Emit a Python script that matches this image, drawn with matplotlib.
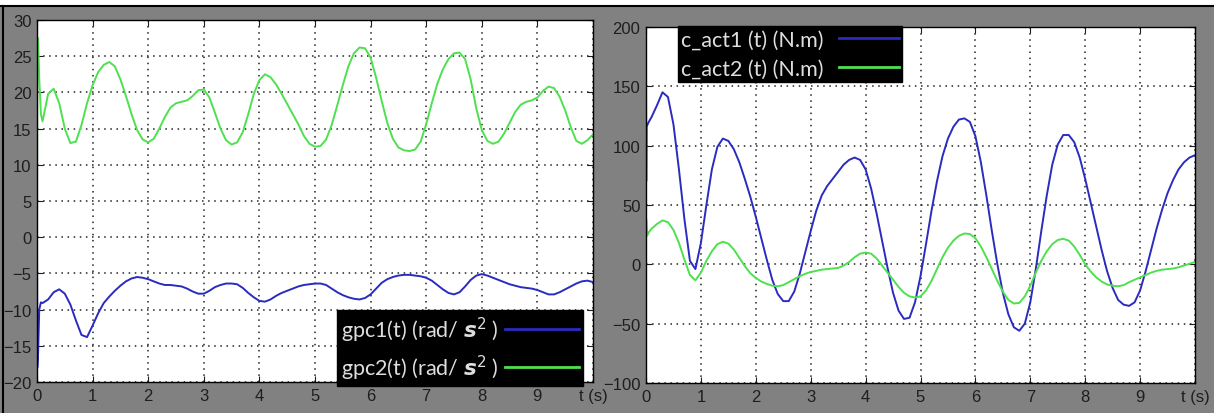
import matplotlib
matplotlib.use("Agg")
import matplotlib.pyplot as plt
from matplotlib.lines import Line2D
from matplotlib.patches import Rectangle
from matplotlib import font_manager

# ---------------- data ----------------
# sample time grid 0.1 .. 10.0 s
T = [round(0.1 * i, 1) for i in range(1, 101)]

# left panel: gpc1 / gpc2 (rad/s^2)
gpc1_head_t = [0.0, 0.005, 0.02, 0.04, 0.07]
gpc1_head_y = [0.0, -18.0, -16.0, -10.0, -9.0]
gpc1 = [-9.1, -8.6, -7.6, -7.2, -7.8, -9.3, -11.5, -13.5, -13.8, -12.2,
        -10.5, -9.1, -8.2, -7.4, -6.7, -6.1, -5.7, -5.5, -5.6, -5.8,
        -6.1, -6.4, -6.6, -6.6, -6.7, -6.8, -7.1, -7.5, -7.8, -7.8,
        -7.4, -6.9, -6.6, -6.4, -6.4, -6.5, -7.0, -7.7, -8.3, -8.8,
        -8.9, -8.6, -8.1, -7.7, -7.4, -7.1, -6.8, -6.6, -6.5, -6.4,
        -6.4, -6.6, -7.1, -7.6, -8.0, -8.3, -8.5, -8.6, -8.4, -7.9,
        -7.1, -6.3, -5.8, -5.5, -5.3, -5.2, -5.2, -5.3, -5.4, -5.6,
        -6.0, -6.6, -7.2, -7.7, -7.9, -7.6, -6.8, -5.9, -5.3, -5.1,
        -5.3, -5.6, -5.9, -6.2, -6.5, -6.7, -6.9, -7.0, -7.1, -7.3,
        -7.6, -7.9, -7.9, -7.6, -7.2, -6.8, -6.4, -6.1, -6.0, -6.2]

gpc2_head_t = [0.0, 0.005, 0.02, 0.04, 0.07]
gpc2_head_y = [0.0, 27.0, 27.5, 22.0, 17.0]
gpc2 = [16.0, 19.8, 20.5, 18.5, 15.0, 13.0, 13.2, 15.5, 18.5, 21.0,
        22.8, 23.8, 24.2, 23.6, 21.8, 19.5, 17.0, 14.8, 13.5, 13.1,
        13.6, 15.0, 16.6, 17.9, 18.5, 18.7, 18.9, 19.5, 20.3, 20.4,
        19.3, 17.2, 15.0, 13.4, 12.8, 13.1, 14.5, 17.0, 19.8, 21.7,
        22.5, 22.1, 21.1, 19.8, 18.4, 17.0, 15.6, 14.0, 12.9, 12.5,
        12.6, 13.5, 15.5, 18.2, 21.0, 23.6, 25.4, 26.2, 26.1, 24.8,
        22.0, 18.8, 15.8, 13.6, 12.4, 12.0, 11.9, 12.1, 13.2, 15.6,
        18.5, 21.2, 23.2, 24.6, 25.4, 25.5, 24.6, 21.8, 17.8, 14.8,
        13.3, 12.9, 13.2, 14.3, 15.8, 17.3, 18.3, 18.7, 18.9, 19.3,
        20.2, 20.8, 20.6, 19.4, 17.5, 15.2, 13.3, 12.9, 13.4, 14.2]

# right panel: c_act1 / c_act2 (N.m)
cact1_head_t = [0.0, 0.004, 0.01, 0.05]
cact1_head_y = [166.0, 70.0, 116.0, 120.0]
cact1 = [124, 134, 145, 141, 118, 80, 38, 3, -4, 18,
         50, 80, 99, 106, 104, 97, 86, 72, 57, 40,
         22, 4, -13, -25, -31, -31, -23, -8, 10, 28,
         45, 58, 66, 72, 78, 84, 88, 90, 88, 80,
         64, 43, 20, -3, -24, -39, -46, -45, -32, -10,
         17, 45, 70, 91, 106, 116, 122, 123, 120, 108,
         86, 58, 28, 0, -24, -42, -53, -56, -50, -32,
         -4, 28, 58, 84, 101, 109, 109, 103, 90, 72,
         52, 32, 12, -6, -20, -30, -34, -35, -32, -22,
         -6, 12, 30, 46, 60, 71, 80, 86, 90, 92]

cact2_head_t = [0.0, 0.004, 0.02, 0.05]
cact2_head_y = [15.0, 38.0, 24.0, 27.0]
cact2 = [30, 34, 37, 35.5, 29, 18, 4, -9, -13.5, -7,
         3, 11, 17, 19, 17.5, 12.5, 5.5, -1.5, -7.5, -11.5,
         -14.5, -16.5, -18, -18.5, -17.5, -15, -12.5, -10, -8, -6.5,
         -5.5, -4.5, -4, -3.5, -3, -1, 2, 6, 9, 10,
         9, 5, -1, -7, -13, -19, -24, -27, -28, -27,
         -22, -14, -4, 6, 14, 20, 24, 26, 25.5, 22,
         15, 6, -4, -14, -23, -30, -33, -32.5, -27, -18,
         -7, 3, 11, 17, 20.5, 21.5, 20, 15, 8, 0,
         -6, -11, -14.5, -17, -18, -18.5, -17.5, -15, -13, -11,
         -9, -7, -5.5, -4.5, -4, -3.5, -2.5, -1, 0.5, 2]

x_ticks = [0, 1, 2, 3, 4, 5, 6, 7, 8, 9, 10]
x_ticklabels = ["0", "1", "2", "3", "4", "5", "6", "7", "8", "9", "t (s)"]
left_yticks = [30, 25, 20, 15, 10, 5, 0, -5, -10, -15, -20]
right_yticks = [200, 150, 100, 50, 0, -50, -100]

left_labels = [r"gpc1(t) (rad/ $\mathbfit{s}^2$ )", r"gpc2(t) (rad/ $\mathbfit{s}^2$ )"]
right_labels = ["c_act1 (t) (N.m)", "c_act2 (t) (N.m)"]

# ---------------- style ----------------
BLUE = "#2b2bbf"
GREEN = "#4fe04f"
BG = "#818181"

avail = {f.name for f in font_manager.fontManager.ttflist}
tick_font = "Liberation Sans Narrow" if "Liberation Sans Narrow" in avail else "Liberation Sans"
leg_font = "Lato" if "Lato" in avail else "DejaVu Sans"

W, H = 1214, 414
fig = plt.figure(figsize=(W / 100, H / 100), dpi=100, facecolor=BG)

# white strip on top and black frame lines
fig.patches.append(Rectangle((0, 1 - 6 / H), 1, 6 / H, transform=fig.transFigure,
                             facecolor="white", edgecolor="none", zorder=0))
fig.add_artist(Line2D([0, 1], [1 - 6.5 / H, 1 - 6.5 / H], transform=fig.transFigure,
                      color="black", lw=1.5))
fig.add_artist(Line2D([3 / W, 3 / W], [0, 1 - 6.5 / H], transform=fig.transFigure,
                      color="black", lw=1.5))


def px_axes(x0, y0, x1, y1):
    return fig.add_axes([x0 / W, 1 - y1 / H, (x1 - x0) / W, (y1 - y0) / H])


def style(ax, yticks):
    ax.set_facecolor("white")
    ax.set_xlim(0, 10)
    ax.set_ylim(min(yticks), max(yticks))
    ax.set_xticks(x_ticks)
    ax.set_xticklabels(x_ticklabels)
    ax.set_yticks(yticks)
    ax.grid(True, color="#222222", linestyle=(0, (1, 3)), linewidth=1.1)
    ax.tick_params(direction="in", length=4, top=True, right=True,
                   labelsize=12, colors="#1e1e1e", pad=4)
    for lab in ax.get_xticklabels() + ax.get_yticklabels():
        lab.set_fontfamily(tick_font)
    for s in ax.spines.values():
        s.set_color("black")
        s.set_linewidth(1.0)


# ---------------- left panel ----------------
axL = px_axes(37, 21, 593, 383)
style(axL, left_yticks)
axL.plot(gpc1_head_t + T, gpc1_head_y + gpc1, color=BLUE, lw=1.4)
axL.plot(gpc2_head_t + T, gpc2_head_y + gpc2, color=GREEN, lw=1.4)

hL = [Line2D([], [], color=BLUE, lw=2), Line2D([], [], color=GREEN, lw=2)]
legL = axL.legend(hL, left_labels, loc="upper left",
                  bbox_to_anchor=(337 / W, 1 - 311 / H), bbox_transform=fig.transFigure,
                  borderaxespad=0, frameon=True, facecolor="black", edgecolor="black",
                  framealpha=1, fancybox=False, markerfirst=False, labelcolor="#dedede",
                  prop={"family": leg_font, "size": 15.5}, handlelength=3.4,
                  labelspacing=0.42, borderpad=0.2, handletextpad=0.3)

# ---------------- right panel ----------------
axR = px_axes(646, 28, 1195, 384)
style(axR, right_yticks)
axR.plot(cact1_head_t + T, cact1_head_y + cact1, color=BLUE, lw=1.4)
axR.plot(cact2_head_t + T, cact2_head_y + cact2, color=GREEN, lw=1.4)

hR = [Line2D([], [], color=BLUE, lw=2), Line2D([], [], color=GREEN, lw=2)]
legR = axR.legend(hR, right_labels, loc="upper left",
                  bbox_to_anchor=(678 / W, 1 - 27 / H), bbox_transform=fig.transFigure,
                  borderaxespad=0, frameon=True, facecolor="black", edgecolor="black",
                  framealpha=1, fancybox=False, markerfirst=False, labelcolor="#dedede",
                  prop={"family": leg_font, "size": 15.5}, handlelength=2.8,
                  labelspacing=0.45, borderpad=0.15, handletextpad=0.7)

fig.savefig("out.png", dpi=100, facecolor=BG)
